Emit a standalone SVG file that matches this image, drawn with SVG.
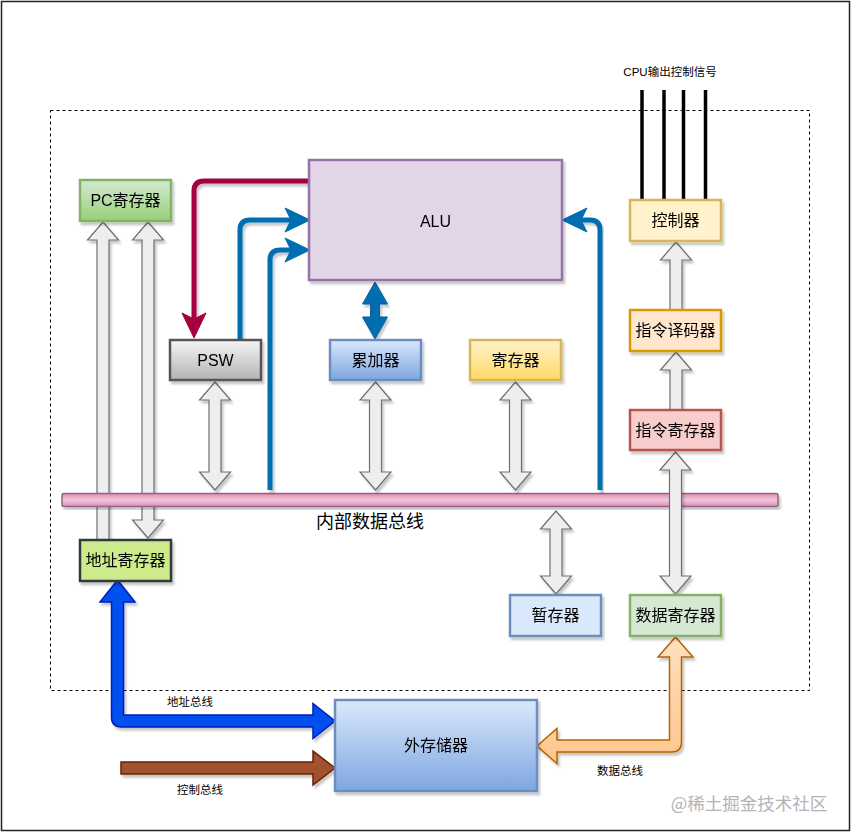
<svg xmlns="http://www.w3.org/2000/svg" width="853" height="834" viewBox="0 0 853 834">
<defs>
<filter id="sh" x="-10%" y="-10%" width="130%" height="130%"><feDropShadow dx="2" dy="3" stdDeviation="1" flood-color="#000" flood-opacity="0.22"/></filter>
<linearGradient id="gGreen" x1="0" y1="0" x2="0" y2="1"><stop offset="0" stop-color="#d5e8d4"/><stop offset="1" stop-color="#97d077"/></linearGradient>
<linearGradient id="gBlue" x1="0" y1="0" x2="0" y2="1"><stop offset="0" stop-color="#dae8fc"/><stop offset="1" stop-color="#7ea6e0"/></linearGradient>
<linearGradient id="gYellow" x1="0" y1="0" x2="0" y2="1"><stop offset="0" stop-color="#fff2cc"/><stop offset="1" stop-color="#ffd966"/></linearGradient>
<linearGradient id="gGray" x1="0" y1="0" x2="0" y2="1"><stop offset="0" stop-color="#f5f5f5"/><stop offset="1" stop-color="#b3b3b3"/></linearGradient>
<linearGradient id="gPink" x1="0" y1="0" x2="0" y2="1"><stop offset="0" stop-color="#d98fb5"/><stop offset="0.5" stop-color="#f2c4db"/><stop offset="1" stop-color="#d98fb5"/></linearGradient>
<linearGradient id="gOrange" x1="0" y1="0" x2="0" y2="1"><stop offset="0" stop-color="#ffe0c0"/><stop offset="1" stop-color="#ffc58c"/></linearGradient>
</defs>
<style>
.lbl{font-family:"Liberation Sans","Noto Sans CJK SC",sans-serif;font-size:16px;fill:#000;text-anchor:middle;dominant-baseline:central}
.sm{font-family:"Liberation Sans","Noto Sans CJK SC",sans-serif;font-size:11.5px;fill:#000;text-anchor:middle;dominant-baseline:central}
.node{stroke-width:2.5}
.garrow{fill:#eeeeee;stroke:#6e6e6e;stroke-width:1.2;stroke-linejoin:miter}
.bline{fill:none;stroke:#006eaf;stroke-width:5}
.bhead{fill:#006eaf;stroke:#006eaf;stroke-width:1}
.ctl{stroke:#000;stroke-width:3.5}
</style>
<rect x="1.5" y="1.5" width="848" height="829" fill="#fff" stroke="#222" stroke-width="1.5"/>
<rect x="50.5" y="110.5" width="759" height="580" fill="none" stroke="#000" stroke-width="1" stroke-dasharray="3 3"/>

<g id="connectors">
<polygon class="garrow" filter="url(#sh)" points="103,222 118.5,240 109,240 109,540 97,540 97,240 87.5,240"/>
<polygon class="garrow" filter="url(#sh)" points="148,222 163.5,240 154,240 154,520 163.5,520 148,538 132.5,520 142,520 142,240 132.5,240"/>
</g>

<g id="bus" filter="url(#sh)">
<rect x="62" y="493.5" width="716" height="13" rx="2" fill="url(#gPink)" stroke="#996185" stroke-width="1.5"/>
</g>
<text class="lbl" x="370" y="522" style="font-size:18px">内部数据总线</text>

<g id="connectors2">
<polygon class="garrow" filter="url(#sh)" points="215,382 230.5,400 221,400 221,472 230.5,472 215,490 199.5,472 209,472 209,400 199.5,400"/>
<polygon class="garrow" filter="url(#sh)" points="375.5,382 391,400 381.5,400 381.5,472 391,472 375.5,490 360,472 369.5,472 369.5,400 360,400"/>
<polygon class="garrow" filter="url(#sh)" points="515.5,382 531,400 521.5,400 521.5,472 531,472 515.5,490 500,472 509.5,472 509.5,400 500,400"/>
<polygon class="garrow" filter="url(#sh)" points="556,511 571.5,529 562,529 562,576 571.5,576 556,594 540.5,576 550,576 550,529 540.5,529"/>
<polygon class="garrow" filter="url(#sh)" points="675.5,452 691,470 681.5,470 681.5,576 691,576 675.5,594 660,576 669.5,576 669.5,470 660,470"/>
<polygon class="garrow" filter="url(#sh)" points="676,352 691.5,370 682,370 682,410 670,410 670,370 660.5,370"/>
<polygon class="garrow" filter="url(#sh)" points="676,242 691.5,260 682,260 682,310 670,310 670,260 660.5,260"/>

<path d="M310,181 L204,181 Q194,181 194,191 L194,320" fill="none" stroke="#a50040" stroke-width="5" filter="url(#sh)"/>
<polygon points="194,338 182,313 194,319 206,313" fill="#a50040" stroke="#a50040"/>
<path class="bline" filter="url(#sh)" d="M240,340 L240,230 Q240,220 250,220 L292,220"/>
<polygon class="bhead" points="310,220 285,208 291,220 285,232"/>
<path class="bline" filter="url(#sh)" d="M270,490 L270,260 Q270,250 280,250 L292,250"/>
<polygon class="bhead" points="310,250 285,238 291,250 285,262"/>
<path class="bline" filter="url(#sh)" d="M600,490 L600,230 Q600,220 590,220 L580,220"/>
<polygon class="bhead" points="562,220 587,208 581,220 587,232"/>
<polygon points="375,282 387.5,304 379.5,304 379.5,317 387.5,317 375,339 362.5,317 370.5,317 370.5,304 362.5,304" fill="#006eaf" stroke="#0b5e99" stroke-width="1" filter="url(#sh)"/>

<line class="ctl" x1="642" y1="90" x2="642" y2="200"/>
<line class="ctl" x1="664" y1="90" x2="664" y2="200"/>
<line class="ctl" x1="683.5" y1="90" x2="683.5" y2="200"/>
<line class="ctl" x1="705.5" y1="90" x2="705.5" y2="200"/>

<path filter="url(#sh)" d="M117.5,580 L135,602 L123.5,602 L123.5,715 L313,715 L313,703.5 L335,721 L313,738.5 L313,727 L121.5,727 Q111.5,727 111.5,717 L111.5,602 L100,602 Z" fill="#0050ef" stroke="#001dbc" stroke-width="1.5" stroke-linejoin="miter"/>
<path filter="url(#sh)" d="M121,762 L313,762 L313,751 L335,768 L313,785 L313,774 L121,774 Z" fill="#a0522d" stroke="#6d1f00" stroke-width="1.5"/>
<path filter="url(#sh)" d="M675.5,637 L693,657 L681.5,657 L681.5,742 Q681.5,752 671.5,752 L557,752 L557,763.5 L537,746 L557,728.5 L557,740 L669.5,740 L669.5,657 L658,657 Z" fill="url(#gOrange)" stroke="#b46504" stroke-width="1.5"/>
</g>

<g id="n-pc" filter="url(#sh)"><rect class="node" x="80" y="180" width="91" height="41" fill="url(#gGreen)" stroke="#82b366"/><text class="lbl" x="125.5" y="200.5">PC寄存器</text></g>
<g id="n-alu" filter="url(#sh)"><rect class="node" x="309" y="160" width="253" height="120" fill="#e1d5e7" stroke="#9673a6"/><text class="lbl" x="435.5" y="221">ALU</text></g>
<g id="n-psw" filter="url(#sh)"><rect class="node" x="170" y="340" width="91" height="40" fill="url(#gGray)" stroke="#555555"/><text class="lbl" x="215.5" y="360">PSW</text></g>
<g id="n-acc" filter="url(#sh)"><rect class="node" x="330" y="340" width="91" height="40" fill="url(#gBlue)" stroke="#6c8ebf"/><text class="lbl" x="375.5" y="360">累加器</text></g>
<g id="n-reg" filter="url(#sh)"><rect class="node" x="470" y="340" width="91" height="40" fill="url(#gYellow)" stroke="#d6b656"/><text class="lbl" x="515.5" y="360">寄存器</text></g>
<g id="n-ctrl" filter="url(#sh)"><rect class="node" x="630" y="200" width="91" height="41" fill="#fff2cc" stroke="#d6b656"/><text class="lbl" x="675.5" y="220.5">控制器</text></g>
<g id="n-dec" filter="url(#sh)"><rect class="node" x="630" y="310" width="91" height="41" fill="#ffe6cc" stroke="#d79b00"/><text class="lbl" x="675.5" y="330.5">指令译码器</text></g>
<g id="n-ir" filter="url(#sh)"><rect class="node" x="630" y="410" width="91" height="40" fill="#f8cecc" stroke="#b85450"/><text class="lbl" x="675.5" y="430">指令寄存器</text></g>
<g id="n-ar" filter="url(#sh)"><rect class="node" x="80" y="540" width="91" height="41" fill="#cdeb8b" stroke="#36393d"/><text class="lbl" x="125.5" y="560.5">地址寄存器</text></g>
<g id="n-tmp" filter="url(#sh)"><rect class="node" x="510" y="595" width="91" height="41" fill="#dae8fc" stroke="#6c8ebf"/><text class="lbl" x="555.5" y="615.5">暂存器</text></g>
<g id="n-dr" filter="url(#sh)"><rect class="node" x="630" y="595" width="91" height="41" fill="#d5e8d4" stroke="#82b366"/><text class="lbl" x="675.5" y="615.5">数据寄存器</text></g>
<g id="n-mem" filter="url(#sh)"><rect class="node" x="335" y="700" width="202" height="91" fill="url(#gBlue)" stroke="#6c8ebf"/><text class="lbl" x="436" y="745.5">外存储器</text></g>

<text class="sm" x="670" y="72">CPU输出控制信号</text>
<text class="sm" x="190" y="702">地址总线</text>
<text class="sm" x="200" y="790">控制总线</text>
<text class="sm" x="620" y="771">数据总线</text>
<text x="749" y="802" style="font-family:'Noto Sans CJK SC','Liberation Sans',sans-serif;font-size:17.5px;fill:#b4b4b4;text-anchor:middle;dominant-baseline:central">@稀土掘金技术社区</text>
</svg>
